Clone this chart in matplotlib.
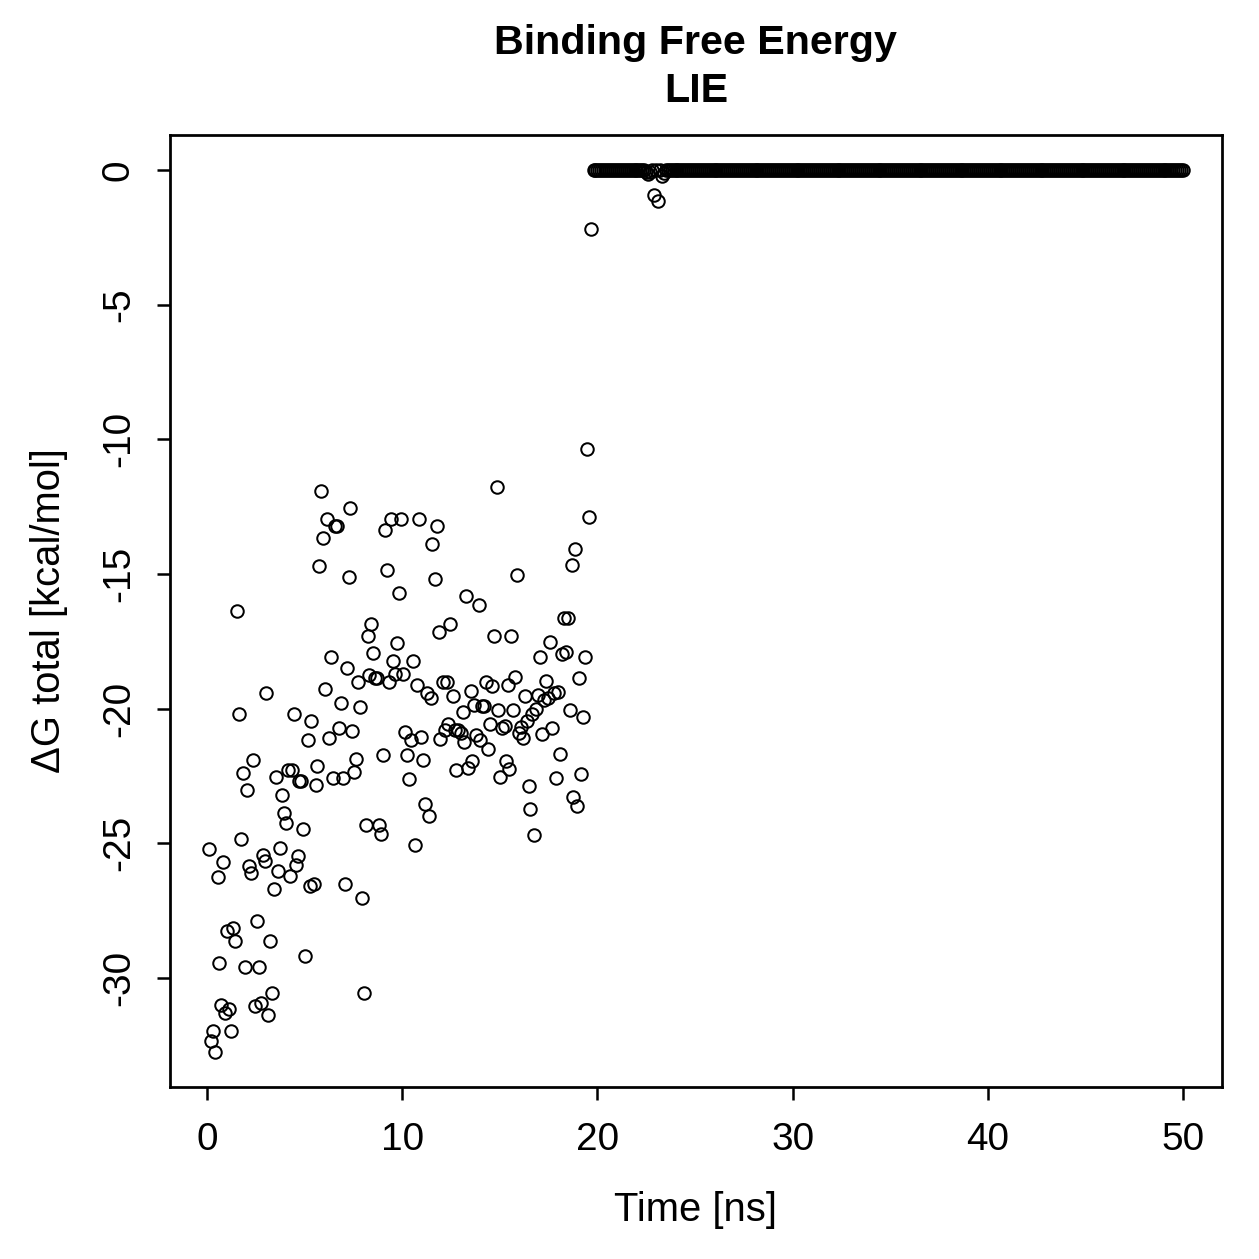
import numpy as np
import matplotlib
matplotlib.use("Agg")
import matplotlib.pyplot as plt

plt.rcParams['font.family'] = ['Liberation Sans', 'DejaVu Sans']

# ---- data ----
early_times = [
    0.10, 0.18, 0.31, 0.41, 0.56, 0.61, 0.72, 0.82, 0.92, 1.02, 1.12, 1.23, 1.33, 1.43,
    1.53, 1.64, 1.74, 1.84, 1.94, 2.04, 2.15, 2.25, 2.35, 2.45, 2.56, 2.66, 2.76, 2.86, 2.97,
    3.02, 3.12, 3.22, 3.32, 3.43, 3.53, 3.63, 3.73, 3.83, 3.94, 4.04, 4.14, 4.24, 4.35, 4.45, 4.55, 4.65,
    4.70, 4.81, 4.91, 5.01,
    5.16, 5.27, 5.32, 5.47, 5.57, 5.62,
    5.73, 5.83, 5.93, 6.03, 6.13, 6.24, 6.34, 6.44, 6.54, 6.65, 6.75, 6.85, 6.95, 7.06, 7.16, 7.26,
    7.31, 7.41, 7.52, 7.62, 7.72, 7.82, 7.92, 8.03, 8.13, 8.23,
    8.28, 8.38, 8.49, 8.59, 8.69, 8.79, 8.90, 9.00, 9.10, 9.20, 9.30, 9.41, 9.51, 9.61, 9.71, 9.82,
    9.92, 10.02, 10.12, 10.22, 10.33, 10.43, 10.53, 10.63, 10.74, 10.84, 10.94, 11.04, 11.15, 11.25,
    11.35, 11.45, 11.55, 11.66, 11.76, 11.86, 11.96, 12.07, 12.17, 12.27, 12.37, 12.47, 12.58, 12.68,
    12.78, 12.88, 12.99, 13.09, 13.19, 13.29, 13.39, 13.50, 13.60, 13.70, 13.80, 13.91, 14.01, 14.11,
    14.21, 14.31, 14.42, 14.52, 14.62, 14.72, 14.83, 14.93, 15.03, 15.13, 15.24, 15.34, 15.44,
    15.49, 15.59, 15.70, 15.80, 15.90, 16.00, 16.10, 16.21, 16.31, 16.41, 16.51,
    16.56, 16.67, 16.77, 16.87, 16.97, 17.08, 17.18, 17.28, 17.38, 17.48, 17.59, 17.69, 17.79, 17.89,
    18.00, 18.10, 18.20, 18.30, 18.40, 18.51, 18.61, 18.71,
    18.76, 18.87, 18.97, 19.07, 19.17, 19.27, 19.38, 19.48, 19.58, 19.68,
]
early_values = [
    -25.20, -32.34, -31.97, -32.75, -26.25, -29.44, -31.00, -25.69, -31.30, -28.25, -31.15, -31.97, -28.14,
    -28.62, -16.39, -20.22, -24.83, -22.38, -29.59, -23.01, -25.84, -26.10, -21.90, -31.04, -27.88, -29.59,
    -30.93, -25.43, -25.65, -19.44, -31.38, -28.62, -30.56, -26.69, -22.53, -26.02, -25.17, -23.20, -23.87,
    -24.24, -22.30, -26.21, -22.30, -20.22, -25.80, -25.46, -22.68, -22.68, -24.46, -29.18, -21.15, -26.58,
    -20.48, -26.51, -22.83, -22.12, -14.72, -11.90, -13.68, -19.29, -12.97, -21.08, -18.07, -22.57, -13.23,
    -13.23, -20.74, -19.78, -22.57, -26.51, -18.48, -15.13, -12.53, -20.82, -22.34, -21.86, -19.00, -19.93,
    -27.03, -30.56, -24.31, -17.29, -18.74, -16.84, -17.92, -18.88, -18.88, -24.31, -24.65, -21.71, -13.38,
    -14.87, -19.03, -12.97, -18.22, -18.70, -17.58, -15.69, -12.97, -18.70, -20.86, -21.71, -22.60, -21.15,
    -18.22, -25.06, -19.11, -12.94, -21.04, -21.90, -23.53, -19.44, -23.98, -19.59, -13.90, -15.17, -13.20,
    -17.17, -21.12, -19.03, -20.78, -19.00, -20.59, -16.84, -19.55, -20.78, -22.27, -20.78, -20.89, -20.11,
    -21.23, -15.80, -22.19, -19.33, -21.93, -19.85, -20.97, -16.17, -21.15, -19.89, -19.89, -19.00, -21.52,
    -20.59, -19.18, -17.29, -11.78, -20.04, -22.53, -20.74, -20.63, -21.93, -19.11, -22.23, -17.29, -20.07,
    -18.81, -15.02, -20.89, -20.67, -21.08, -19.52, -20.48, -22.86, -23.72, -20.22, -24.68, -20.00, -19.48,
    -18.07, -20.93, -19.67, -18.96, -19.59, -17.51, -20.71, -19.44, -22.57, -19.37, -21.67, -17.99, -16.65,
    -17.88, -16.65, -20.07, -14.68, -23.27, -14.09, -23.61, -18.85, -22.42, -20.30, -18.07, -10.37, -12.90,
    -2.19,
]

# after ~19.8 ns the energy sits at zero, with a few small dips
late_start, late_stop, late_step = 19.8, 50.0, 0.1
late_level = 0.0
dip_times = [22.5, 22.6, 22.7, 22.9, 23.1, 23.3, 23.4]
dip_values = [-0.08, -0.15, -0.05, -0.93, -1.15, -0.20, -0.12]

title = "Binding Free Energy\nLIE"
xlabel = "Time [ns]"
ylabel = "\u0394G total [kcal/mol]"
xticks = [0, 10, 20, 30, 40, 50]
yticks = [0, -5, -10, -15, -20, -25, -30]

# ---- assemble series ----
n_late = int(round((late_stop - late_start) / late_step)) + 1
late_times = np.round(late_start + late_step * np.arange(n_late), 1)
late_values = np.full(n_late, late_level)
for t, v in zip(dip_times, dip_values):
    late_values[np.argmin(np.abs(late_times - t))] = v

n = min(len(early_times), len(early_values))
times = np.concatenate([np.array(early_times[:n]), late_times])
values = np.concatenate([np.array(early_values[:n]), late_values])

# ---- plot ----
W = 1259
dpi = 180
fig = plt.figure(figsize=(W / dpi, W / dpi), dpi=dpi)
ax = fig.add_axes([170 / W, 1 - 1087 / W, (1222 - 170) / W, (1087 - 135) / W])

ax.plot(times, values, linestyle='none', marker='o', markersize=5.0,
        markerfacecolor='none', markeredgecolor='black', markeredgewidth=0.8)

xr = times.max() - times.min()
yr = values.max() - values.min()
ax.set_xlim(times.min() - 0.04 * xr, times.max() + 0.04 * xr)
ax.set_ylim(values.min() - 0.04 * yr, values.max() + 0.04 * yr)

ax.set_xticks(xticks)
ax.set_yticks(yticks)
ax.set_xticklabels([str(t) for t in xticks], fontsize=15.5)
ax.set_yticklabels([str(t) for t in yticks], fontsize=15.5, rotation=90, va='center')
ax.tick_params(axis='x', direction='out', length=5.2, width=1.0, pad=9, color='black')
ax.tick_params(axis='y', direction='out', length=5.2, width=1.0, pad=8, color='black')
for s in ax.spines.values():
    s.set_linewidth(1.1)
    s.set_color('black')

ax.set_xlabel(xlabel, fontsize=16, labelpad=13)
ax.set_ylabel(ylabel, fontsize=16, labelpad=13)
ax.set_title(title, fontsize=16.5, fontweight='bold', pad=13, linespacing=1.35)

fig.savefig("out.png", dpi=dpi, facecolor='white')
